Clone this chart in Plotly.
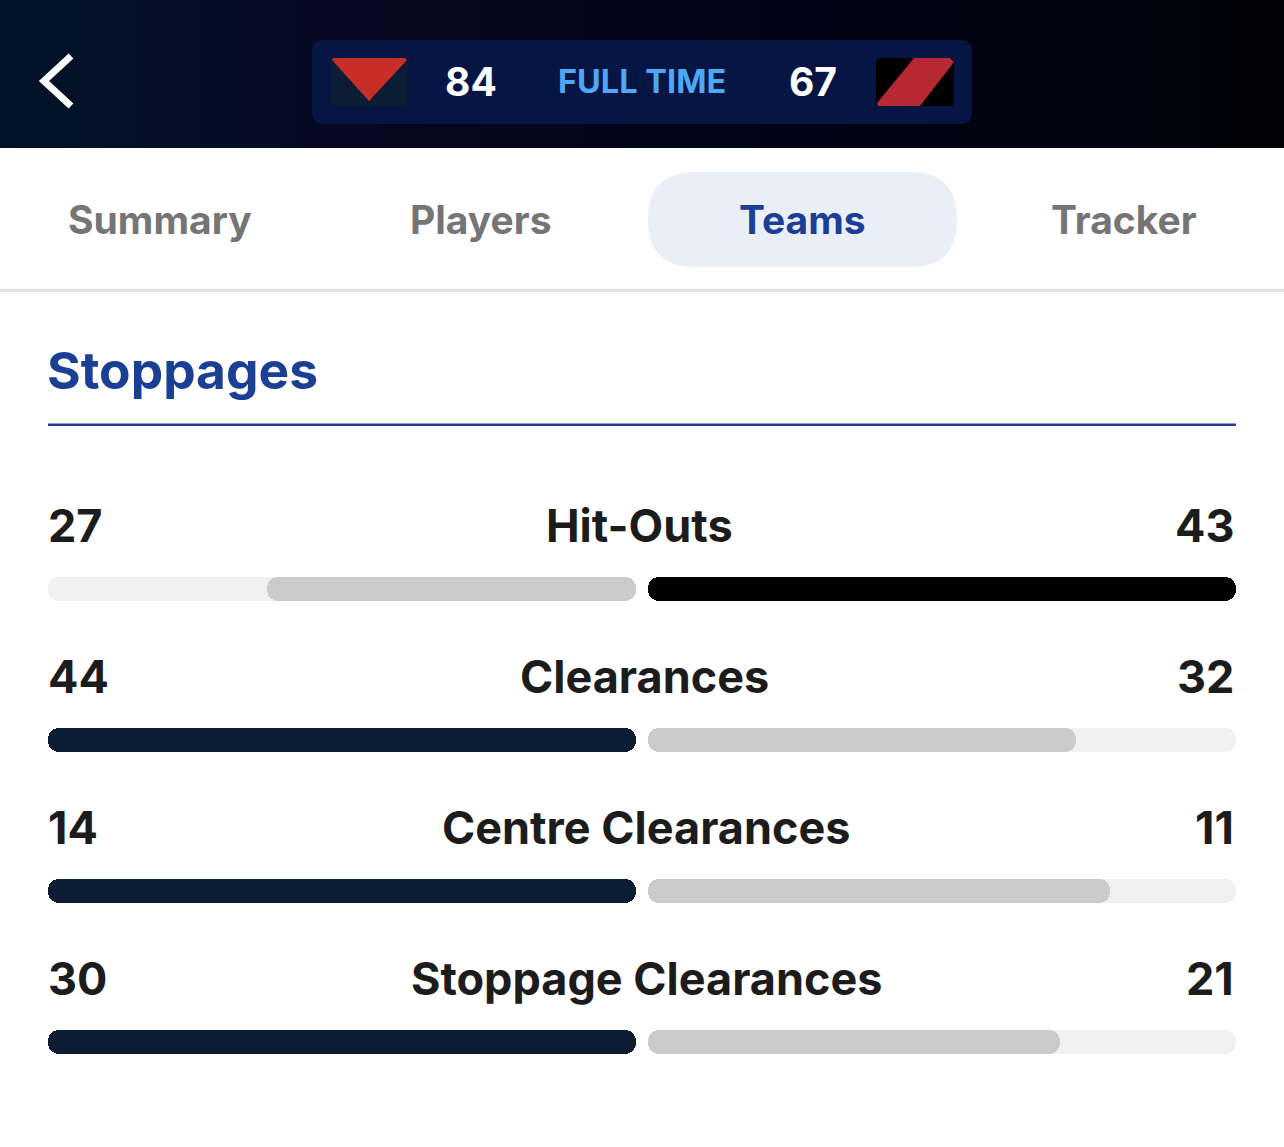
import plotly.graph_objects as go

# stats, top to bottom
stat_names = ["Hit-Outs", "Clearances", "Centre Clearances", "Stoppage Clearances"]
home_vals = [27, 44, 14, 30]
away_vals = [43, 32, 11, 21]

tab_names = ["Summary", "Players", "Teams", "Tracker"]
section_title = "Stoppages"
status_text = "FULL TIME"
home_score = 84
away_score = 67

NAVY = "#0c1c33"
BLACK = "#000000"
GREY = "#cbcbcb"
TRACK = "#f1f1f1"
BLUE = "#1a3f94"
W, H = 1284, 1147
FONT = "Inter"

fig = go.Figure()


def add_bar(axis, name, share, color):
    # an explicit base makes plotly round both ends of the bar
    fig.add_trace(go.Bar(
        x=[share], base=[0], y=[name], orientation="h", width=24 / 151,
        marker=dict(color=color, cornerradius=11, line_width=0),
        xaxis=axis, yaxis="y", showlegend=False, hoverinfo="skip",
    ))


# each side's track runs to the larger number of that row
for name, home, away in zip(stat_names, home_vals, away_vals):
    top = max(home, away)
    add_bar("x", name, 1, TRACK)
    add_bar("x2", name, 1, TRACK)
    add_bar("x", name, home / top, NAVY if home >= away else GREY)
    add_bar("x2", name, away / top, BLACK if away >= home else GREY)

# header gradient, on the pixel axes
steps = 64
fig.add_trace(go.Heatmap(
    x=[W * i / steps for i in range(steps + 1)], y=[0, 148],
    z=[[i / (steps - 1) for i in range(steps)]], showscale=False,
    colorscale=[[0, "#031327"], [0.25, "#050a22"], [0.5, "#02051a"], [1, "#010109"]],
    xaxis="x3", yaxis="y3", hoverinfo="skip",
))


def box(x0, y0, x1, y1, r, color):
    path = (f"M{x0+r},{y0} L{x1-r},{y0} Q{x1},{y0} {x1},{y0+r} L{x1},{y1-r} Q{x1},{y1} {x1-r},{y1} "
            f"L{x0+r},{y1} Q{x0},{y1} {x0},{y1-r} L{x0},{y0+r} Q{x0},{y0} {x0+r},{y0} Z")
    return dict(type="path", path=path, fillcolor=color, line_width=0, xref="x3", yref="y3", layer="above")


def poly(points, color):
    path = "M" + " L".join(f"{x},{y}" for x, y in points) + " Z"
    return dict(type="path", path=path, fillcolor=color, line_width=0, xref="x3", yref="y3", layer="above")


def rule(y0, y1, x0, x1, color):
    return dict(type="rect", x0=x0, x1=x1, y0=y0, y1=y1, fillcolor=color, line_width=0,
                xref="x3", yref="y3", layer="above")


shapes = [
    box(312, 40, 972, 124, 12, "#061543"),
    box(331, 58, 407, 106, 4, NAVY),
    poly([(333, 58), (405, 58), (407, 60), (369, 101), (332, 60)], "#c92d27"),
    box(876, 58, 954, 106, 4, BLACK),
    poly([(914, 58), (950, 58), (954, 62), (920, 106), (878, 106), (877, 103)], "#b82832"),
    dict(type="path", path="M71,56 L44,81 L71,106", line=dict(color="white", width=7),
         xref="x3", yref="y3", layer="above"),
    box(648, 172, 957, 267, 47, "#eaeef6"),
    rule(289, 292, 0, W, "#e2e2e2"),
    rule(423.5, 426, 48, 1236, BLUE),
]

annotations = []


def label(x, y, text, size, color, anchor="center"):
    annotations.append(dict(
        x=x, y=y, xref="x3", yref="y3", text=str(text), showarrow=False, xanchor=anchor,
        yanchor="middle", font=dict(family=FONT, size=size, color=color, weight=700),
    ))


label(471, 81, home_score, 39, "white")
label(642, 81, status_text, 32.5, "#4fa8f5")
label(813, 81, away_score, 39, "white")
tab_x = [160, 481, 802, 1124]
for name, x in zip(tab_names, tab_x):
    label(x, 219, name, 39, BLUE if name == "Teams" else "#757575")
label(45, 370, section_title, 51.5, BLUE, "left")

# the stat name sits midway between the two numbers
name_x = [639, 644, 646, 647]
for name, home, away, x in zip(stat_names, home_vals, away_vals, name_x):
    for px, text, anchor in [(46, home, "left"), (x, name, "center"), (1236, away, "right")]:
        annotations.append(dict(
            x=px, xref="x3", y=name, yref="y", yshift=64, text=str(text), showarrow=False,
            xanchor=anchor, yanchor="middle",
            font=dict(family=FONT, size=45, color="#1c1c1c", weight=700),
        ))

hidden = dict(visible=False, fixedrange=True)
fig.update_layout(
    width=W, height=H, margin=dict(l=0, r=0, t=0, b=0), autosize=False,
    paper_bgcolor="white", plot_bgcolor="rgba(0,0,0,0)", barmode="overlay", bargap=0,
    shapes=shapes, annotations=annotations, showlegend=False,
    # bars sit 151px apart, first one centred 589px down the page
    yaxis=dict(hidden, type="category", categoryorder="array", categoryarray=stat_names,
               domain=[0, 1], range=[(H - 589) / 151, -589 / 151]),
    xaxis=dict(hidden, domain=[48 / W, 636 / W], range=[1, 0]),
    xaxis2=dict(hidden, domain=[648 / W, 1236 / W], range=[0, 1], anchor="y"),
    xaxis3=dict(hidden, domain=[0, 1], range=[0, W], anchor="y3"),
    yaxis3=dict(hidden, domain=[0, 1], range=[H, 0], anchor="x3"),
)

fig.write_html("out.html", post_script="document.body.style.margin='0';document.body.style.overflow='hidden';",
               config=dict(displayModeBar=False))
